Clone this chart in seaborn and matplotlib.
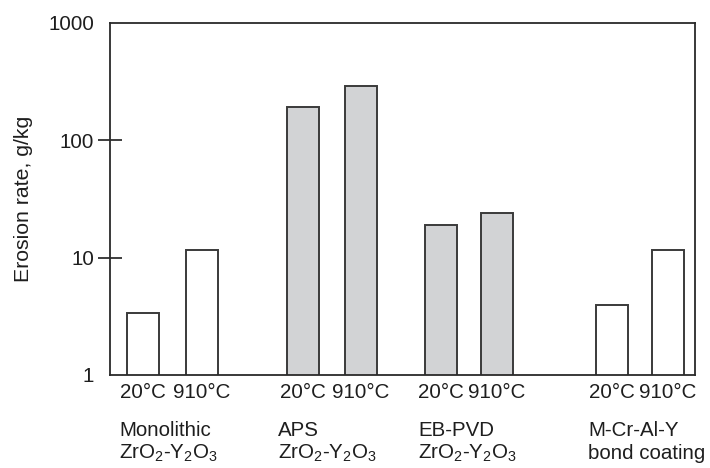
import matplotlib
matplotlib.use("Agg")
import matplotlib.pyplot as plt
import seaborn as sns
import pandas as pd

# ---- data ----
group_line1 = ["Monolithic", "APS", "EB-PVD", "M-Cr-Al-Y"]
group_line2 = [r"ZrO$_2$-Y$_2$O$_3$", r"ZrO$_2$-Y$_2$O$_3$", r"ZrO$_2$-Y$_2$O$_3$", "bond coating"]
temps = ["20°C", "910°C", "20°C", "910°C", "20°C", "910°C", "20°C", "910°C"]
values = [3.4, 11.6, 191, 291, 18.9, 23.9, 3.95, 11.6]
kinds = ["bulk", "bulk", "tbc", "tbc", "tbc", "tbc", "bond", "bond"]
yticks = [1, 10, 100, 1000]
ytick_labels = ["1", "10", "100", "1000"]

# ---- layout (not data) ----
positions = [33, 91.5, 192.5, 250.5, 331, 387, 502, 558]
group_text_x = [9, 168, 308, 478]
palette = {"bulk": "white", "tbc": "#d2d3d5", "bond": "white"}

sns.set_style("white")
plt.rcParams["font.family"] = ["Liberation Sans", "DejaVu Sans"]
plt.rcParams["mathtext.fontset"] = "custom"
plt.rcParams["mathtext.rm"] = "Liberation Sans"
plt.rcParams["mathtext.it"] = "Liberation Sans:italic"
plt.rcParams["mathtext.bf"] = "Liberation Sans:bold"

FS = 14.8
TXT = "#1e1e1e"

fig = plt.figure(figsize=(7.1, 4.68), dpi=100)
ax = fig.add_axes([110 / 710, 1 - 375 / 468, 585 / 710, 352 / 468])
ax.set_yscale("log")

df = pd.DataFrame({"x": positions, "y": values, "kind": kinds})
sns.barplot(data=df, x="x", y="y", hue="kind", palette=palette, native_scale=True,
            dodge=False, width=32 / 56, edgecolor="#3a3a3a", linewidth=1.4,
            legend=False, ax=ax)

ax.set_xlim(0, 585)
ax.set_ylim(1, 1000)
ax.set_xticks(positions)
ax.set_xticklabels(temps, fontsize=FS)
ax.tick_params(axis="x", bottom=True, length=0, pad=6, colors=TXT)
ax.set_yticks(yticks)
ax.set_yticklabels(ytick_labels, fontsize=FS)
ax.yaxis.set_minor_locator(matplotlib.ticker.NullLocator())
ax.tick_params(axis="y", left=True, direction="inout", length=17, width=1.2, pad=3,
               colors=TXT)
for i in (0, len(yticks) - 1):
    ax.yaxis.get_major_ticks()[i].tick1line.set_visible(False)
ax.set_xlabel("")
ax.set_ylabel("Erosion rate, g/kg", fontsize=15.3, color=TXT)
ax.yaxis.set_label_coords(-0.132, 0.5)

for s in ax.spines.values():
    s.set_visible(True)
    s.set_color("#2a2a2a")
    s.set_linewidth(1.3)

trans = ax.get_xaxis_transform()
for x, l1, l2 in zip(group_text_x, group_line1, group_line2):
    ax.text(x, -0.158, l1, transform=trans, ha="left", va="center", fontsize=FS, color=TXT)
    ax.text(x, -0.222, l2, transform=trans, ha="left", va="center", fontsize=FS, color=TXT)

fig.savefig("out.png", dpi=100)
